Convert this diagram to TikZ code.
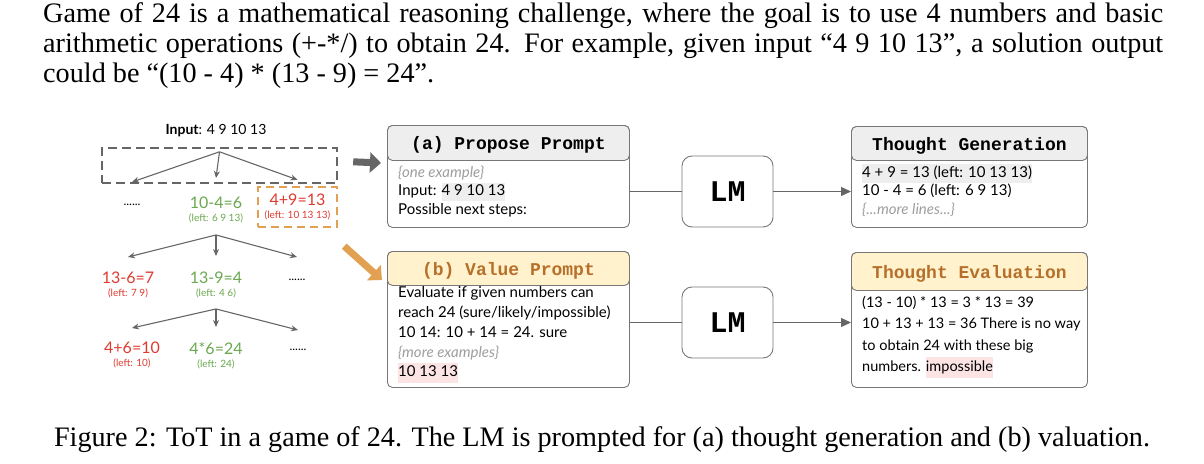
\documentclass[tikz,border=0pt]{standalone}
\usepackage{fontspec}
\setmainfont{Liberation Serif}
\setmonofont{Liberation Mono}
\newfontfamily\lato{Lato}
\usepackage{xcolor}
\usetikzlibrary{arrows.meta,positioning,calc}

\definecolor{edgegray}{HTML}{666666}
\definecolor{boxgray}{HTML}{777777}
\definecolor{headgray}{HTML}{EEEEEE}
\definecolor{headyellow}{HTML}{FFF2CC}
\definecolor{titlebrown}{HTML}{B7702B}
\definecolor{wrongred}{HTML}{DE3B30}
\definecolor{rightgreen}{HTML}{6AA84F}
\definecolor{pickorange}{HTML}{E2A052}
\definecolor{softgray}{HTML}{9E9E9E}
\definecolor{markgray}{HTML}{EEEEEE}
\definecolor{markpink}{HTML}{FCE4E4}

\newcommand{\hlbox}[2]{{\setlength{\fboxsep}{0pt}\colorbox{#1}{\strut #2}}}
\newcommand{\leftover}[1]{\\{\fontsize{10}{12}\selectfont (left: #1)}}

\begin{document}
\begin{tikzpicture}[
  x=1pt, y=-1pt, font=\lato\fontsize{15}{18.5}\selectfont,
  prose/.style={font=\rmfamily\fontsize{28.2}{30}\selectfont, inner sep=0pt},
  branch/.style={-{Stealth[length=7pt,width=6pt]}, draw=edgegray, line width=1.1pt},
  frontier/.style={draw=edgegray, dash pattern=on 9pt off 5pt, line width=2.4pt,
    minimum width=235pt, minimum height=35pt},
  chosen/.style={draw=pickorange, dash pattern=on 8pt off 5pt, line width=2.4pt,
    minimum width=79pt, minimum height=40pt},
  expr/.style={font=\lato\fontsize{16}{13}\selectfont, align=center, anchor=north, inner sep=0pt},
  bad/.style={expr, text=wrongred},
  good/.style={expr, text=rightgreen},
  more/.style={expr, font=\lato\fontsize{12}{13}\selectfont},
  card/.style={draw=boxgray, line width=0.9pt, rounded corners=5pt, anchor=north west,
    minimum width=242pt, inner sep=0pt},
  cardhead/.style={card, minimum height=35pt, text height=14pt, text depth=0pt,
    font=\ttfamily\bfseries\fontsize{18}{18}\selectfont},
  cardtext/.style={anchor=north west, align=left, inner sep=0pt},
  lm/.style={draw=boxgray, line width=0.9pt, rounded corners=10pt, minimum width=91pt,
    minimum height=71pt, font=\ttfamily\bfseries\fontsize{30}{30}\selectfont},
  feed/.style={draw=edgegray, line width=1.3pt},
  emit/.style={feed, -{Triangle[length=10pt,width=9pt]}},
  jump/.style={line width=7pt, -{Triangle[length=11pt,width=20pt]}}
]
\useasboundingbox (0,0) rectangle (1204,463);

\node[prose, anchor=base west] (intro) at (43,22) {\parbox[t]{1120pt}{
  Game of 24 is a mathematical reasoning challenge, where the goal is to use 4 numbers and basic
  arithmetic operations (+-*/) to obtain 24. For example, given input “4 9 10 13”, a solution output
  could be “(10 - 4) * (13 - 9) = 24”.}};

\node[font=\lato\fontsize{14}{17}\selectfont] (root) at (216,131) {\textbf{Input}: 4 9 10 13};
\node[frontier] (level0) at (219.5,165.5) {};
\node[more] (t1a) at (132,197) {\vphantom{1}......};
\node[good] (t1b) at (216,197) {10-4=6\leftover{6 9 13}};
\node[bad, chosen, anchor=center] (t1c) at (297.5,207) {4+9=13\leftover{10 13 13}};
\node[bad] (t2a) at (128,272) {13-6=7\leftover{7 9}};
\node[good] (t2b) at (216,272) {13-9=4\leftover{4 6}};
\node[more] (t2c) at (297,272) {\vphantom{1}......};
\node[bad] (t3a) at (132,342) {4+6=10\leftover{10}};
\node[good] (t3b) at (216,342) {4*6=24\leftover{24}};
\node[more] (t3c) at (298,342) {\vphantom{1}......};

\draw[branch] ([yshift=-5pt]level0.north) -- ([yshift=15pt]t1a.north);
\draw[branch] ([yshift=-5pt]level0.north) -- ([yshift=19pt]t1b.north);
\draw[branch] ([yshift=-5pt]level0.north) -- ([yshift=6pt]t1c.north);
\draw[branch] ([yshift=-11.5pt]t1b.south) -- ([yshift=15pt]t2a.north);
\draw[branch] ([yshift=-11.5pt]t1b.south) -- ([yshift=16pt]t2b.north);
\draw[branch] ([yshift=-11.5pt]t1b.south) -- ([yshift=15pt]t2c.north);
\draw[branch] ([yshift=-10.5pt]t2b.south) -- ([yshift=14pt]t3a.north);
\draw[branch] ([yshift=-10.5pt]t2b.south) -- ([yshift=15pt]t3b.north);
\draw[branch] ([yshift=-10.5pt]t2b.south) -- ([yshift=12pt]t3c.north);

\node[card, minimum height=102pt] (propose) at (387,125) {};
\node[cardhead, fill=headgray] (proposehead) at (propose.north west) {(a) Propose Prompt};
\node[cardtext] (proposetext) at (398,164) {\strut{\color{softgray}\itshape\{one example\}}\\
  Input: \hlbox{markgray}{4 9 10 13}\\
  Possible next steps:};

\node[card, minimum height=136pt] (value) at (387,251) {};
\node[cardhead, minimum height=34pt, fill=headyellow, text=titlebrown] (valuehead) at (value.north west) {(b) Value Prompt};
\node[cardtext, font=\lato\fontsize{15}{19.7}\selectfont] (valuetext) at (398,284) {\strut Evaluate if given numbers can\\
  reach 24 (sure/likely/impossible)\\
  10 14: 10 + 14 = 24. sure\\
  {\color{softgray}\itshape\{more examples\}}\\
  \hlbox{markpink}{10 13 13}};

\node[card, minimum width=236pt, minimum height=101pt] (gen) at (851,126) {};
\node[cardhead, minimum width=236pt, minimum height=34pt, fill=headgray] (genhead) at (gen.north west) {Thought Generation};
\node[cardtext] (gentext) at (862,164) {\hlbox{markgray}{4 + 9 = 13 (left: 10 13 13)}\\
  10 - 4 = 6 (left: 6 9 13)\\
  {\color{softgray}\itshape\{...more lines...\}}};

\node[card, minimum width=236pt, minimum height=135pt] (eval) at (851,252) {};
\node[cardhead, minimum width=236pt, minimum height=38pt, fill=headyellow, text=titlebrown] (evalhead) at (eval.north west) {Thought Evaluation};
\node[cardtext, font=\lato\fontsize{14.5}{21.5}\selectfont] (evaltext) at (862,292) {\strut(13 - 10) * 13 = 3 * 13 = 39\\
  10 + 13 + 13 = 36 There is no way\\
  to obtain 24 with these big\\
  numbers. \hlbox{markpink}{impossible}};

\node[lm] (lmpropose) at (727.5,191.5) {LM};
\node[lm] (lmvalue) at (727.5,322.5) {LM};

\draw[feed] (lmpropose.west -| propose.east) -- (lmpropose);
\draw[emit] (lmpropose) -- (lmpropose.east -| gen.west);
\draw[feed] (lmvalue.west -| value.east) -- (lmvalue);
\draw[emit] (lmvalue) -- (lmvalue.east -| eval.west);

\draw[jump, edgegray] ($(level0.north east)+(15,15)$) -- ($(propose.north west)+(-6,38)$);
\draw[jump, pickorange] ($(t1c.south east)+(6,18)$) -- ($(value.north west)+(-5,29)$);

\node[prose, anchor=base] (caption) at (602,446)
  {Figure 2: ToT in a game of 24. The LM is prompted for (a) thought generation and (b) valuation.};
\end{tikzpicture}
\end{document}
